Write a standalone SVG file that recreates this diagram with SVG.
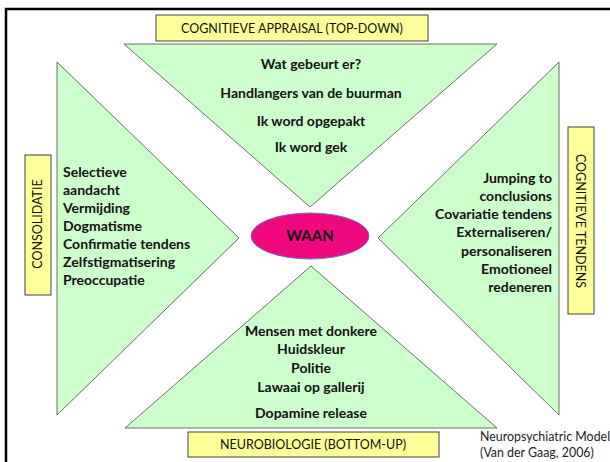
<svg xmlns="http://www.w3.org/2000/svg" width="610" height="462" viewBox="0 0 610 462">
<style>
.tri{fill:#CCFFCC;stroke:#404040;stroke-width:0.75}
.lab{fill:#FFFF99;stroke:#404040;stroke-width:1}
.lt{font-family:Lato,"Liberation Sans",sans-serif;font-size:12.5px;fill:#111}
.bt{font-family:Lato,"Liberation Sans",sans-serif;font-size:14px;font-weight:bold;fill:#111}
.c{text-anchor:middle}
.r{text-anchor:end}
.cite{font-family:Lato,"Liberation Sans",sans-serif;font-size:12.4px;fill:#222}
</style>
<rect x="0" y="0" width="610" height="462" fill="#fff"/>
<rect x="6" y="9" width="640" height="480" fill="none" stroke="#000" stroke-width="2.5"/>
<g id="top">
<polygon class="tri" points="124,44 497,44 310,207"/>
<text class="bt c" x="311" y="69">Wat gebeurt er?</text>
<text class="bt c" x="311" y="98">Handlangers van de buurman</text>
<text class="bt c" x="311" y="126">Ik word opgepakt</text>
<text class="bt c" x="311" y="152">Ik word gek</text>
</g>
<g id="left">
<polygon class="tri" points="57,62 239,238 57,415"/>
<text class="bt" x="63" y="177">Selectieve</text>
<text class="bt" x="63" y="195">aandacht</text>
<text class="bt" x="63" y="213">Vermijding</text>
<text class="bt" x="63" y="231">Dogmatisme</text>
<text class="bt" x="63" y="249">Confirmatie tendens</text>
<text class="bt" x="63" y="267">Zelfstigmatisering</text>
<text class="bt" x="63" y="285">Preoccupatie</text>
</g>
<g id="right">
<polygon class="tri" points="559,62 378,238 559,415"/>
<text class="bt r" x="552" y="183">Jumping to</text>
<text class="bt r" x="552" y="201">conclusions</text>
<text class="bt r" x="552" y="219">Covariatie tendens</text>
<text class="bt r" x="552" y="237">Externaliseren/</text>
<text class="bt r" x="552" y="256">personaliseren</text>
<text class="bt r" x="552" y="274">Emotioneel</text>
<text class="bt r" x="552" y="292">redeneren</text>
</g>
<g id="bottom">
<polygon class="tri" points="125,428 497,428 311,266"/>
<text class="bt c" x="311" y="336">Mensen met donkere</text>
<text class="bt c" x="311" y="354">Huidskleur</text>
<text class="bt c" x="311" y="373">Politie</text>
<text class="bt c" x="311" y="392">Lawaai op gallerij</text>
<text class="bt c" x="311" y="418">Dopamine release</text>
</g>
<g id="waan">
<ellipse cx="310" cy="236" rx="59" ry="23" fill="#F0087F" stroke="#6C6CC8" stroke-width="1"/>
<text class="bt c" x="310" y="241" style="font-size:15px">WAAN</text>
</g>
<g id="label-top">
<rect class="lab" x="156" y="15" width="272" height="26"/>
<text class="lt c" x="292" y="33">COGNITIEVE APPRAISAL (TOP-DOWN)</text>
</g>
<g id="label-left">
<rect class="lab" x="25" y="155" width="26" height="140"/>
<text class="lt c" transform="translate(42,224) rotate(-90)">CONSOLIDATIE</text>
</g>
<g id="label-right">
<rect class="lab" x="568" y="127" width="26" height="187"/>
<text class="lt c" transform="translate(576,221) rotate(90)">COGNITIEVE TENDENS</text>
</g>
<g id="label-bottom">
<rect class="lab" x="188" y="432" width="251" height="25"/>
<text class="lt c" x="313" y="449">NEUROBIOLOGIE (BOTTOM-UP)</text>
</g>
<g id="citation">
<text class="cite" x="480" y="441">Neuropsychiatric Model</text>
<text class="cite" x="480" y="457">(Van der Gaag, 2006)</text>
</g>
<g id="connectors"></g>
</svg>
